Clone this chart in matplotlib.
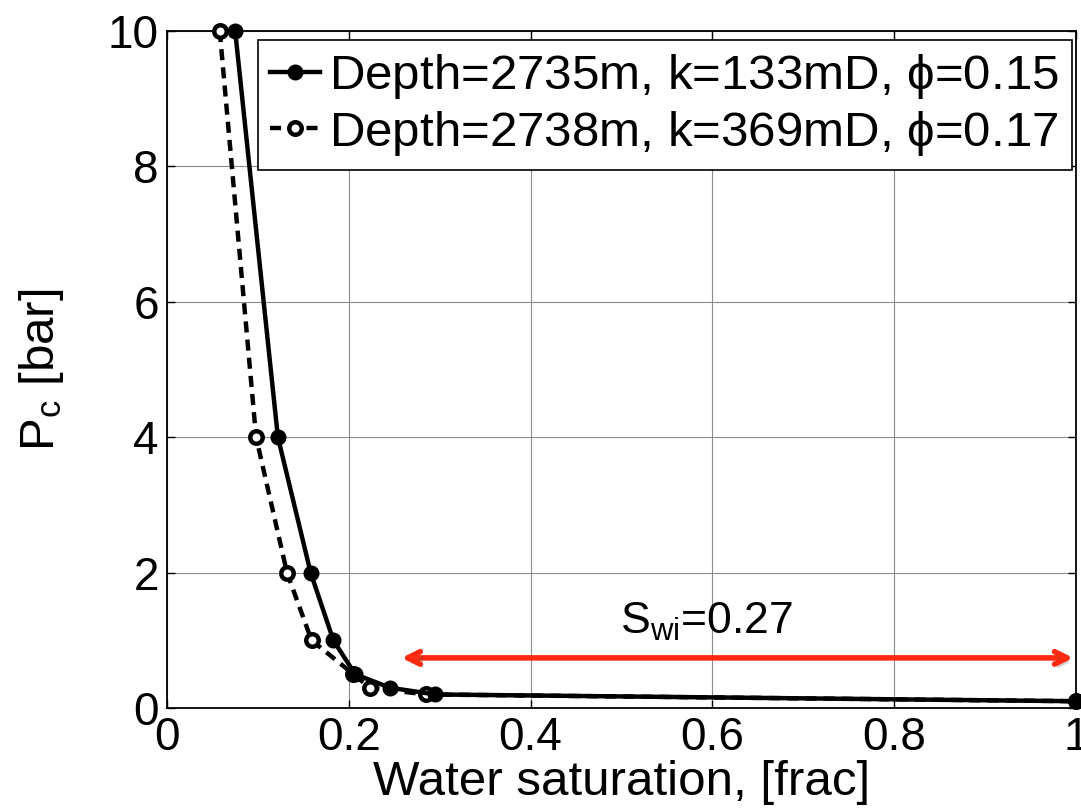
import matplotlib
matplotlib.use("Agg")
import matplotlib.pyplot as plt
import matplotlib.patheffects as pe

plt.rcParams['font.family'] = ['Liberation Sans', 'DejaVu Sans']
plt.rcParams['mathtext.fontset'] = 'custom'
plt.rcParams['mathtext.rm'] = 'Liberation Sans'
plt.rcParams['mathtext.it'] = 'Liberation Sans'

# Data
sw_2735 = [0.075, 0.122, 0.158, 0.183, 0.207, 0.245, 0.295, 1.0]
pc_2735 = [10, 4, 2, 1, 0.5, 0.3, 0.2, 0.1]
sw_2738 = [0.058, 0.098, 0.132, 0.159, 0.205, 0.223, 0.285, 1.0]
pc_2738 = [10, 4, 2, 1, 0.5, 0.3, 0.2, 0.1]
label_2735 = r"Depth=2735m, k=133mD, $\phi$=0.15"
label_2738 = r"Depth=2738m, k=369mD, $\phi$=0.17"
swi_start, swi_end, swi_y = 0.255, 1.0, 0.74
swi_text = r"S$_{\mathrm{wi}}$=0.27"

fig = plt.figure(figsize=(10.81, 8.08), dpi=100)
ax = fig.add_axes([167/1081, 1-708/808, (1076-167)/1081, (708-31)/808])

ax.plot(sw_2735, pc_2735, '-', color='black', lw=3.2, marker='o', ms=10,
        mfc='black', mec='black', mew=1.5, label=label_2735, zorder=4,
        clip_on=False)
ax.plot(sw_2738, pc_2738, '--', color='black', lw=3.2, dashes=(2.5, 1.6),
        marker='o', ms=9, mfc='white', mec='black', mew=3.2,
        label=label_2738, zorder=3, clip_on=False)

ax.set_xlim(0, 1)
ax.set_ylim(0, 10)
ax.set_xticks([0, 0.2, 0.4, 0.6, 0.8, 1.0])
ax.set_xticklabels(['0', '0.2', '0.4', '0.6', '0.8', '1'])
ax.set_yticks([0, 2, 4, 6, 8, 10])
ax.grid(True, color='0.55', lw=0.8)
ax.tick_params(direction='in', length=6, width=1, top=True, right=True,
               labelsize=33, pad=6)
for s in ax.spines.values():
    s.set_linewidth(1.3)

ax.set_xlabel("Water saturation, [frac]", fontsize=35.5, labelpad=0)
ax.set_ylabel(r"P$_{\mathrm{c}}$ [bar]", fontsize=35.5, labelpad=30)

# Arrow
ax.annotate('', xy=(swi_start, swi_y), xytext=(swi_end, swi_y),
            arrowprops=dict(arrowstyle='<->,head_length=0.9,head_width=0.45',
                            color='#ff2a10', lw=4,
                            path_effects=[pe.SimplePatchShadow(offset=(2, -3), alpha=0.25),
                                          pe.Normal()]),
            zorder=5)
ax.text(0.594, 1.1, swi_text, fontsize=32, ha='center', va='baseline')

leg = ax.legend(loc='upper left', bbox_to_anchor=((258-167)/909, 1-(40-31)/677),
                borderaxespad=0, fontsize=35.5, fancybox=False, framealpha=1,
                edgecolor='black', handlelength=1.0, handletextpad=0.2,
                labelspacing=0.15, borderpad=0.25)
leg.get_frame().set_linewidth(1.2)

fig.savefig("out.png", dpi=100)
